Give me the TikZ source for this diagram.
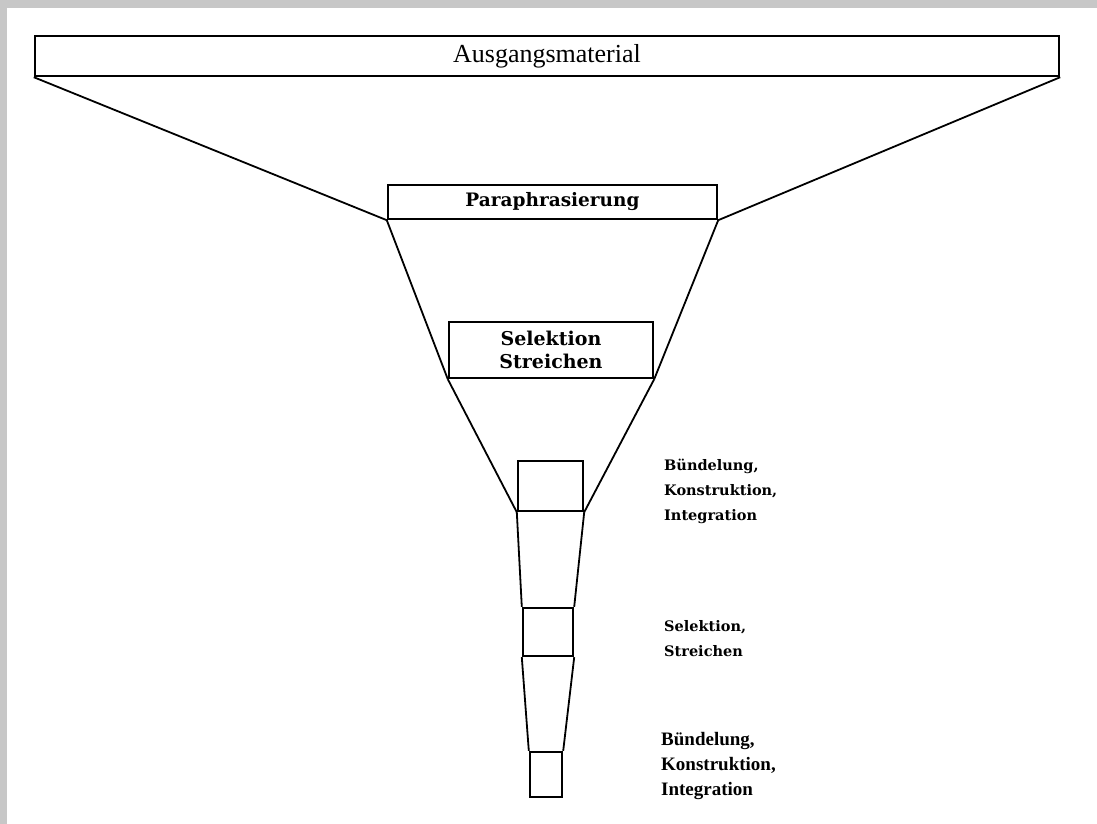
\documentclass[tikz,border=0pt]{standalone}
\usepackage{fontspec}
\setmainfont{DejaVu Serif}
\newfontfamily\timesfont{Liberation Serif}
\usepackage{tikz}

\tikzset{
    stage/.style={draw, line width=2.4pt, inner sep=0pt},
    funnel/.style={line width=1.8pt},
    steplabel/.style={anchor=west, align=left, inner sep=0pt, font=\bfseries\fontsize{14.5}{25}\selectfont}
}

\begin{document}
\begin{tikzpicture}[x=1pt, y=-1pt]
        \useasboundingbox (0,0) rectangle (1097,824);
        \fill[white] (0,0) rectangle (1097,824);
        \fill[black!22] (0,0) rectangle (1097,8);
        \fill[black!22] (0,0) rectangle (7,824);

        \node[stage, minimum width=1024pt, minimum height=40pt, font=\timesfont\fontsize{26}{30}\selectfont] (quelle) at (547,56) {Ausgangsmaterial};
        \node[stage, minimum width=329pt, minimum height=34pt, font=\bfseries\fontsize{18.5}{20}\selectfont] (para) at (552.5,202) {Paraphrasierung};
        \node[stage, minimum width=204pt, minimum height=56pt, align=center, font=\bfseries\fontsize{19}{23}\selectfont] (sel) at (551,350) {Selektion\\Streichen};
        \node[stage, minimum width=65pt, minimum height=50pt] (buend) at (550.5,486) {};
        \node[stage, minimum width=50pt, minimum height=48pt] (sel2) at (548,632) {};
        \node[stage, minimum width=32pt, minimum height=45pt] (buend2) at (546,774.5) {};

        \draw[funnel] (quelle.south west) -- (para.south west);
        \draw[funnel] (quelle.south east) -- (para.south east);
        \draw[funnel] (para.south west) -- (sel.south west);
        \draw[funnel] (para.south east) -- (sel.south east);
        \draw[funnel] (sel.south west) -- (buend.south west);
        \draw[funnel] (sel.south east) -- (buend.south east);
        \draw[funnel] (buend.south west) -- (sel2.north west);
        \draw[funnel] (buend.south east) -- (sel2.north east);
        \draw[funnel] (sel2.south west) -- (buend2.north west);
        \draw[funnel] (sel2.south east) -- (buend2.north east);

        \node[steplabel] (lab1) at (664,491) {Bündelung,\\Konstruktion,\\Integration};
        \node[steplabel] (lab2) at (664,639) {Selektion,\\Streichen};
        \node[steplabel, font=\timesfont\bfseries\fontsize{19}{25}\selectfont] (lab3) at (661,766) {Bündelung,\\Konstruktion,\\Integration};
    \end{tikzpicture}
\end{document}
